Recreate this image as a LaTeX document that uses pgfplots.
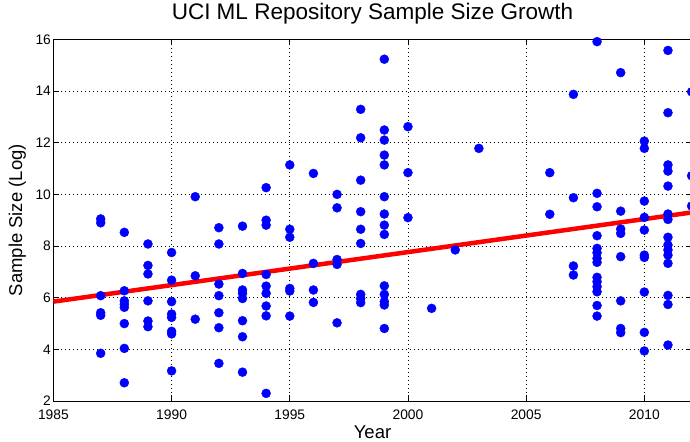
\documentclass[border=0pt]{standalone}
\usepackage{fontspec}
\setmainfont{Liberation Sans}
\usepackage{pgfplots}
\usepackage{pgfplotstable}
\pgfplotsset{compat=1.18}
\usetikzlibrary{calc}
\pgfplotstableread{
x y
1987 9.05
1987 8.90
1987 6.08
1987 5.42
1987 5.32
1987 3.85
1988 8.53
1988 6.27
1988 5.88
1988 5.75
1988 5.63
1988 5.00
1988 4.04
1988 2.71
1989 8.08
1989 7.25
1989 6.92
1989 5.88
1989 5.10
1989 4.88
1990 7.75
1990 6.68
1990 5.85
1990 5.37
1990 5.24
1990 4.70
1990 4.60
1990 3.17
1991 9.91
1991 6.85
1991 5.17
1992 8.71
1992 8.08
1992 6.53
1992 6.08
1992 5.42
1992 4.84
1992 3.46
1993 8.77
1993 6.94
1993 6.30
1993 6.17
1993 5.97
1993 5.11
1993 4.49
1993 3.12
1994 10.26
1994 9.00
1994 8.81
1994 6.90
1994 6.45
1994 6.17
1994 5.68
1994 5.30
1994 2.30
1995 11.14
1995 8.65
1995 8.34
1995 6.36
1995 6.26
1995 5.29
1996 10.81
1996 7.33
1996 6.30
1996 5.82
1997 10.00
1997 9.48
1997 7.48
1997 7.29
1997 5.03
1998 13.29
1998 12.19
1998 10.55
1998 9.33
1998 8.65
1998 8.10
1998 6.13
1998 5.97
1998 5.81
1999 15.23
1999 12.49
1999 12.10
1999 11.52
1999 11.14
1999 9.91
1999 9.24
1999 8.81
1999 8.45
1999 6.46
1999 6.13
1999 5.85
1999 5.72
1999 4.81
2000 12.62
2000 10.84
2000 9.10
2001 5.59
2002 7.85
2003 11.78
2006 10.84
2006 9.23
2007 13.87
2007 9.87
2007 7.23
2007 6.88
2008 15.91
2008 10.04
2008 9.52
2008 8.40
2008 7.91
2008 7.74
2008 7.52
2008 7.37
2008 6.79
2008 6.62
2008 6.43
2008 6.23
2008 5.70
2008 5.29
2009 14.71
2009 9.35
2009 8.66
2009 8.49
2009 7.59
2009 5.88
2009 4.81
2009 4.65
2010 12.06
2010 11.78
2010 9.74
2010 9.11
2010 8.62
2010 7.65
2010 7.56
2010 6.22
2010 4.66
2010 3.94
2011 15.57
2011 13.16
2011 11.14
2011 10.90
2011 10.32
2011 9.24
2011 9.03
2011 8.34
2011 8.04
2011 7.85
2011 7.65
2011 7.33
2011 6.09
2011 5.74
2011 4.17
2012 13.97
2012 10.72
2012 9.55
}\datatable
\begin{document}
\begin{tikzpicture}
\begin{axis}[
  scale only axis,
  width=638pt, height=361.7pt,
  xmin=1985, xmax=2012, ymin=2, ymax=16,
  xtick={1985,1990,...,2010},
  ytick={2,4,...,16},
  /pgf/number format/1000 sep={},
  /pgf/number format/assume math mode=true,
  tick label style={font=\fontsize{13.8}{16}\selectfont},
  xticklabel style={yshift=-5pt},
  yticklabel style={xshift=1pt},
  tick align=inside,
  major tick length=6pt,
  tick style={black, line width=0.6pt},
  axis line style={black, line width=0.8pt},
  grid=major,
  major grid style={black, line width=0.7pt, dash pattern=on 1pt off 3pt},
  clip=false,
  title={UCI ML Repository Sample Size Growth},
  title style={font=\fontsize{22.5}{26}\selectfont, at={(axis description cs:0.5,1.0368)}, anchor=base},
  xlabel={Year},
  xlabel style={font=\fontsize{18.5}{21}\selectfont, at={(axis description cs:0.5,-0.086)}, anchor=center},
  ylabel={Sample Size (Log)},
  ylabel style={font=\fontsize{18.5}{21}\selectfont, at={(axis description cs:-0.0564,0.5)}, anchor=center},
]
\addplot[red, line width=4.5pt] coordinates {(1985,5.85) (2012,9.30)};
\addplot[only marks, mark=*, mark size=4.5pt, mark options={draw=blue, fill=blue}] table[x=x, y=y] {\datatable};
\coordinate (bl) at (rel axis cs:0,0);
\coordinate (tr) at (rel axis cs:1,1);
\end{axis}
\pgfresetboundingbox
\path ($(bl)+(-53.4pt,-40pt)$) rectangle ($(tr)+(-1.6pt,39.3pt)$);
\end{tikzpicture}
\end{document}
